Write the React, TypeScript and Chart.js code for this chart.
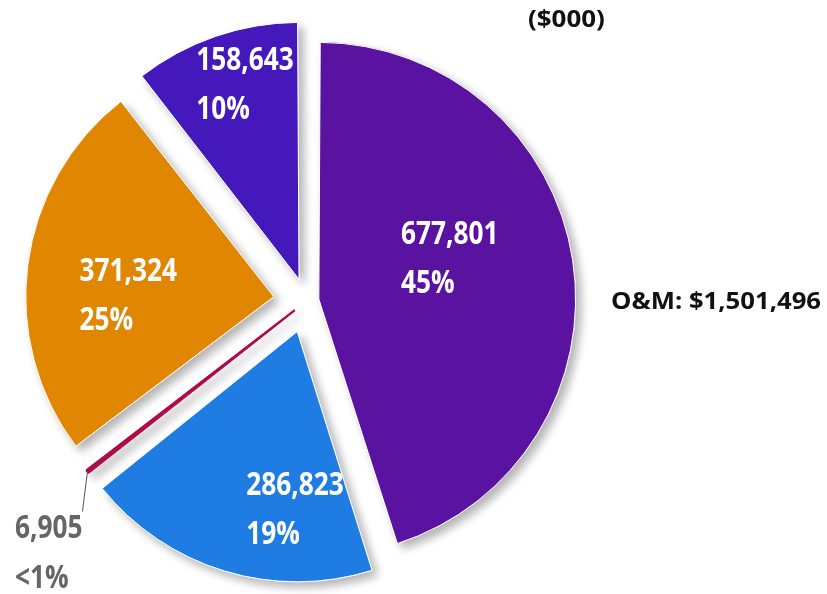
import { useEffect, useRef } from 'react';
import { Chart, registerables } from 'chart.js';

Chart.register(...registerables);

// ---- data ----
const categories = ['Segment A', 'Segment B', 'Segment C', 'Segment D', 'Segment E'];
const values = [677801, 286823, 6905, 371324, 158643];
const percentLabels = ['45%', '19%', '<1%', '25%', '10%'];
const unitLabel = '($000)';
const totalLabel = 'O&M: $1,501,496';

// ---- styles ----
const colors = ['#5A13A1', '#1E7CE3', '#B10C4A', '#E08600', '#4418BA'];
const borderColors = ['#FFFFFF', '#FFFFFF', '#B10C4A', '#FFFFFF', '#FFFFFF'];
const borderWidths = [1, 1, 2, 1, 1];
const sliceOffsets = [50, 128, 60, 132, 92];
const labelRadius = [0.554, 0.711, 0, 0.587, 0.82];
const labelTurn = [-9.1, -16.2, 0, -6.4, 3.6];
const outsideIndex = 2;
const FONT = '"Open Sans", "DejaVu Sans", sans-serif';
const LABEL_SIZE = 32;
const LABEL_SX = 0.82;

function setFont(ctx: CanvasRenderingContext2D, size: number) {
  ctx.font = `bold ${size}px ${FONT}`;
}
function textW(ctx: CanvasRenderingContext2D, text: string, size: number, sx: number) {
  setFont(ctx, size);
  return ctx.measureText(text).width * sx;
}
function drawText(ctx: CanvasRenderingContext2D, text: string, x: number, y: number, size: number, color: string, sx: number) {
  ctx.save();
  setFont(ctx, size);
  ctx.fillStyle = color;
  ctx.textAlign = 'left';
  ctx.textBaseline = 'alphabetic';
  ctx.translate(x, y);
  ctx.scale(sx, 1);
  ctx.fillText(text, 0, 0);
  ctx.restore();
}

// Draw a shadowed pass first, so the clean pass on top keeps shadows only in the gaps.
const shadowPlugin = {
  id: 'sliceShadow',
  beforeDatasetsDraw(chart: any) {
    const c = chart.ctx;
    const meta = chart.getDatasetMeta(0);
    c.save();
    c.shadowColor = 'rgba(0,0,0,0.30)';
    c.shadowBlur = 10;
    c.shadowOffsetX = 5;
    c.shadowOffsetY = 5;
    meta.controller.draw();
    c.restore();
  },
};

const labelPlugin = {
  id: 'sliceLabels',
  afterDatasetsDraw(chart: any) {
    const ctx: CanvasRenderingContext2D = chart.ctx;
    const meta = chart.getDatasetMeta(0);
    meta.data.forEach((arc: any, i: number) => {
      const { x, y, startAngle, endAngle, outerRadius } = arc.getProps(
        ['x', 'y', 'startAngle', 'endAngle', 'outerRadius'],
        true
      );
      const mid = (startAngle + endAngle) / 2;
      const t = (arc.options.offset || 0) / 4;
      const fix = 1 - Math.sin(Math.min(Math.PI, endAngle - startAngle));
      const ax = x + Math.cos(mid) * t;
      const ay = y + Math.sin(mid) * t;
      const line1 = values[i].toLocaleString('en-US');
      const line2 = percentLabels[i];
      if (i === outsideIndex) {
        const R = outerRadius + t * fix;
        const tipX = ax + Math.cos(mid) * R;
        const tipY = ay + Math.sin(mid) * R;
        const endX = tipX - 5;
        const endY = tipY + 40;
        ctx.save();
        ctx.strokeStyle = '#555555';
        ctx.lineWidth = 1;
        ctx.beginPath();
        ctx.moveTo(tipX, tipY);
        ctx.lineTo(endX, endY);
        ctx.stroke();
        ctx.restore();
        const w1 = textW(ctx, line1, LABEL_SIZE, LABEL_SX);
        const left = endX - w1;
        drawText(ctx, line1, left, endY + 27, LABEL_SIZE, '#666666', LABEL_SX);
        drawText(ctx, line2, left, endY + 77, LABEL_SIZE, '#666666', LABEL_SX);
      } else {
        const a = mid + (labelTurn[i] * Math.PI) / 180;
        const r = outerRadius * labelRadius[i];
        const px = ax + Math.cos(a) * r;
        const py = ay + Math.sin(a) * r;
        const w1 = textW(ctx, line1, LABEL_SIZE, LABEL_SX);
        const left = px - w1 / 2;
        drawText(ctx, line1, left, py - 13, LABEL_SIZE, '#FFFFFF', LABEL_SX);
        drawText(ctx, line2, left, py + 36, LABEL_SIZE, '#FFFFFF', LABEL_SX);
      }
    });
    drawText(ctx, unitLabel, 528, 27, 24, '#111111', 1.08);
    drawText(ctx, totalLabel, 611, 309, 24, '#111111', 1.07);
  },
};

export default function App() {
  const canvasRef = useRef<HTMLCanvasElement | null>(null);

  useEffect(() => {
    if (!canvasRef.current) return;
    const chart = new Chart(canvasRef.current, {
      type: 'pie',
      data: {
        labels: categories,
        datasets: [
          {
            data: values,
            backgroundColor: colors,
            borderColor: borderColors,
            borderWidth: borderWidths,
            offset: sliceOffsets,
            hoverOffset: 0,
            clip: false,
          } as any,
        ],
      },
      options: {
        animation: false,
        responsive: true,
        maintainAspectRatio: false,
        events: [],
        radius: 248,
        rotation: 0,
        layout: { padding: { left: 0, right: 214, top: 8, bottom: 0 } },
        plugins: {
          legend: { display: false },
          tooltip: { enabled: false },
          title: { display: false },
        },
      } as any,
      plugins: [shadowPlugin, labelPlugin],
    });
    return () => chart.destroy();
  }, []);

  return (
    <div style={{ position: 'fixed', left: 0, top: 0, width: 827, height: 594, background: '#FFFFFF' }}>
      <canvas ref={canvasRef} />
    </div>
  );
}
